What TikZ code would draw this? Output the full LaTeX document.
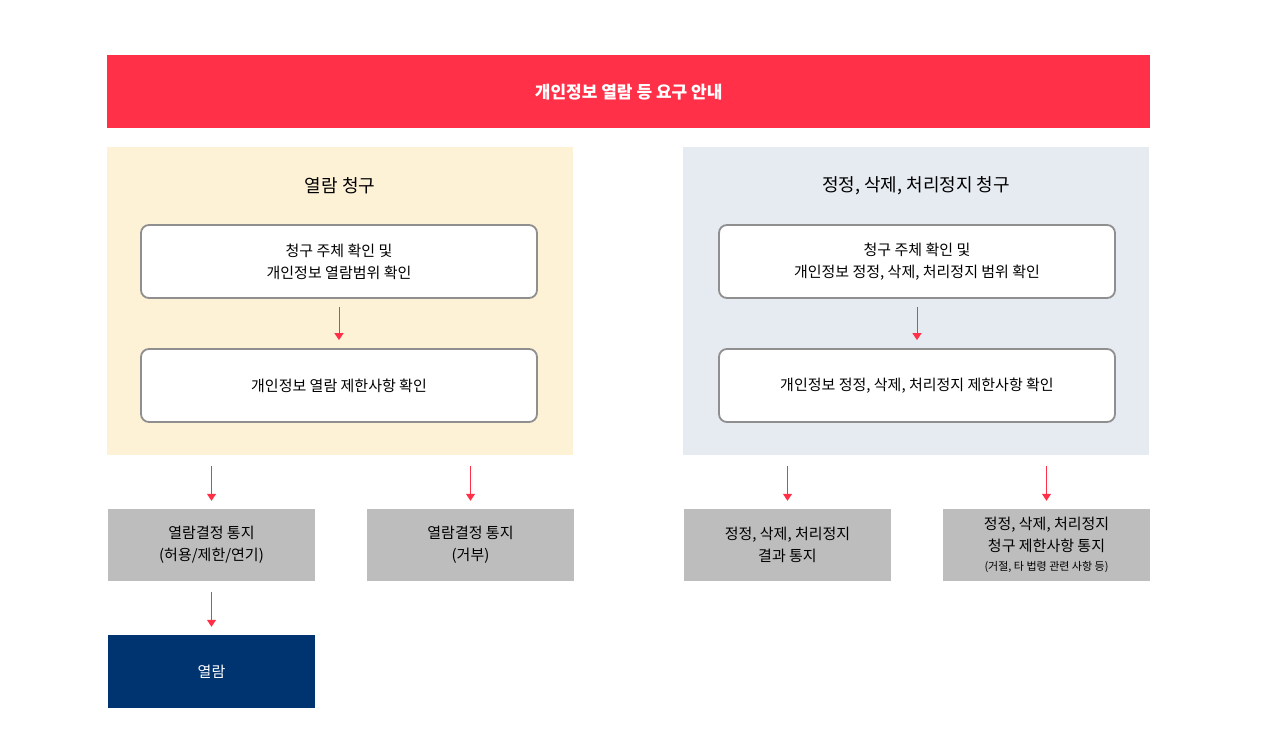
\documentclass[tikz,border=0pt]{standalone}
\usepackage{fontspec}
\setmainfont{Noto Sans CJK KR}
\usetikzlibrary{arrows.meta,positioning}
\definecolor{hdred}{HTML}{FF3048}
\definecolor{warmbg}{HTML}{FDF1D6}
\definecolor{coolbg}{HTML}{E6EAF1}
\definecolor{resgray}{HTML}{BDBDBD}
\definecolor{navy}{HTML}{003471}
\definecolor{edge}{HTML}{8F8F8F}
\begin{document}
\begin{tikzpicture}[x=1pt,y=-1pt,
    panel/.style={anchor=north west,inner sep=0pt},
    stepbox/.style={draw=edge,line width=1.8pt,fill=white,rounded corners=8pt,
        minimum width=396pt,minimum height=73pt,align=center,
        font=\fontsize{15}{22}\selectfont},
    resbox/.style={fill=resgray,minimum width=207pt,minimum height=72pt,
        align=center,inner sep=0pt,font=\fontsize{15}{22}\selectfont},
    arr/.style={hdred,line width=1pt,-{Triangle[width=9pt,length=7pt]},
        shorten <=8pt,shorten >=8pt}]
    \useasboundingbox (0,0) rectangle (1280,744);

    % Kopf
    \node[panel,fill=hdred,minimum width=1043pt,minimum height=73pt] (head) at (107,55) {};
    \node[text=white,font=\fontsize{17}{20}\selectfont\bfseries] at (head.center) {개인정보 열람 등 요구 안내};

    % Felder
    \node[panel,fill=warmbg,minimum width=466pt,minimum height=308pt] (left) at (107,147) {};
    \node[panel,fill=coolbg,minimum width=466pt,minimum height=308pt] (right) at (683,147) {};
    \node[font=\fontsize{18}{20}\selectfont] at (340,186) {열람 청구};
    \node[font=\fontsize{18}{20}\selectfont] at (916,186) {정정, 삭제, 처리정지 청구};

    % Schritte links
    \node[stepbox] (l1) at (339,261.5) {청구 주체 확인 및\\개인정보 열람범위 확인};
    \node[stepbox] (l2) at (339,385.5) {개인정보 열람 제한사항 확인};
    \draw[arr] (l1) -- (l2);

    % Schritte rechts
    \node[stepbox] (r1) at (917,261.5) {청구 주체 확인 및\\개인정보 정정, 삭제, 처리정지 범위 확인};
    \node[stepbox] (r2) at (917,385.5) {개인정보 정정, 삭제, 처리정지 제한사항 확인};
    \draw[arr] (r1) -- (r2);

    % Ergebnisse
    \node[resbox] (g1) at (211.5,545) {열람결정 통지\\(허용/제한/연기)};
    \node[resbox] (g2) at (470.5,545) {열람결정 통지\\(거부)};
    \node[resbox] (g3) at (787.5,545) {정정, 삭제, 처리정지\\결과 통지};
    \node[resbox] (g4) at (1046.5,545) {정정, 삭제, 처리정지\\청구 제한사항 통지\\[-3pt]{\fontsize{11}{14}\selectfont (거절, 타 법령 관련 사항 등)}};
    \foreach \g/\p in {g1/left,g2/left,g3/right,g4/right}
        \draw[arr,shorten <=11pt] (\p.south -| \g.north) -- (\g.north);

    % Endstufe
    \node[resbox,fill=navy,text=white,minimum height=73pt] (fin) at (211.5,671.5) {열람};
    \draw[arr,shorten <=11pt] (g1) -- (fin);
\end{tikzpicture}
\end{document}
